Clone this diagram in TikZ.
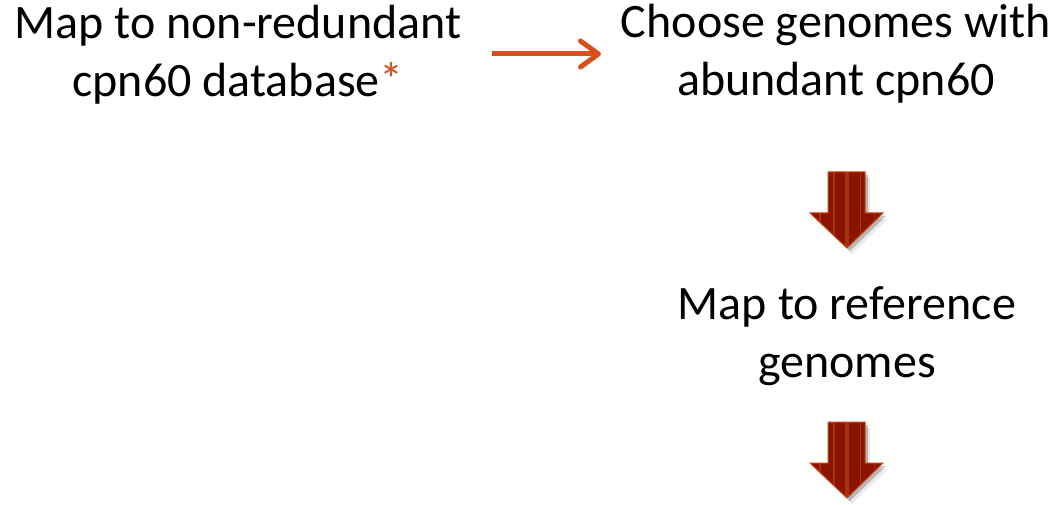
\documentclass[tikz,border=0pt]{standalone}
\usepackage{fontspec}
\setmainfont{Carlito}
\usetikzlibrary{arrows.meta}
\definecolor{orarrow}{RGB}{214,80,30}
\definecolor{arrfill}{RGB}{138,20,0}
\definecolor{arrstripe}{RGB}{170,50,15}
\definecolor{arredge}{RGB}{200,70,20}
\tikzset{
  lbl/.style={font=\fontsize{48}{58}\selectfont, align=center, inner sep=0pt, anchor=base},
  flowarrow/.style={draw=orarrow, line width=5pt, -{Straight Barb[length=18pt,width=26pt,line cap=round,round]}},
}
\newcommand{\bigarrow}[2]{%
  \begin{scope}[shift={(#1,#2)}]
    \foreach \o in {0.10,0.08,0.06}{%
      \fill[black,opacity=\o] (-19+3,0+3) -- (18+3,0+3) -- (18+3,41+3) -- (36+3,41+3) -- (0+3,76+3) -- (-37+3,41+3) -- (-19+3,41+3) -- cycle;}
    \fill[black,opacity=0.08] (-19+5,0+6) -- (18+5,0+6) -- (18+5,41+6) -- (36+5,41+6) -- (0+5,76+6) -- (-37+5,41+6) -- (-19+5,41+6) -- cycle;
    \begin{scope}
      \clip (-19,0) -- (18,0) -- (18,41) -- (36,41) -- (0,76) -- (-37,41) -- (-19,41) -- cycle;
      \fill[arrfill] (-40,-2) rectangle (40,80);
      \fill[arrstripe] (-14,0) rectangle (-12.5,80);
      \fill[arrstripe] (-2,0) rectangle (2,80);
      \fill[arrstripe] (12.5,0) rectangle (14,80);
      \fill[arrstripe] (-28,41) rectangle (-26.5,80);
      \fill[arrstripe] (26.5,41) rectangle (28,80);
    \end{scope}
    \draw[arredge, line width=1pt, line join=miter] (-19,0) -- (18,0) -- (18,41) -- (36,41) -- (0,76) -- (-37,41) -- (-19,41) -- cycle;
  \end{scope}}
\begin{document}
\begin{tikzpicture}[x=1pt,y=-1pt]
\useasboundingbox (0,0) rectangle (1061,505);
\node[lbl] (n1) at (238,97) {Map to non-redundant\\cpn60 database\textcolor{orarrow}{*}};
\node[lbl] (n2) at (836,96) {Choose genomes with\\abundant cpn60};
\node[lbl] (n3) at (847,377) {Map to reference\\genomes};
\coordinate (a1s) at (492,54);
\coordinate (a1e) at (601,54);
\draw[flowarrow] (a1s) -- (a1e);
\bigarrow{847}{172}
\bigarrow{847}{422}
\end{tikzpicture}
\end{document}
